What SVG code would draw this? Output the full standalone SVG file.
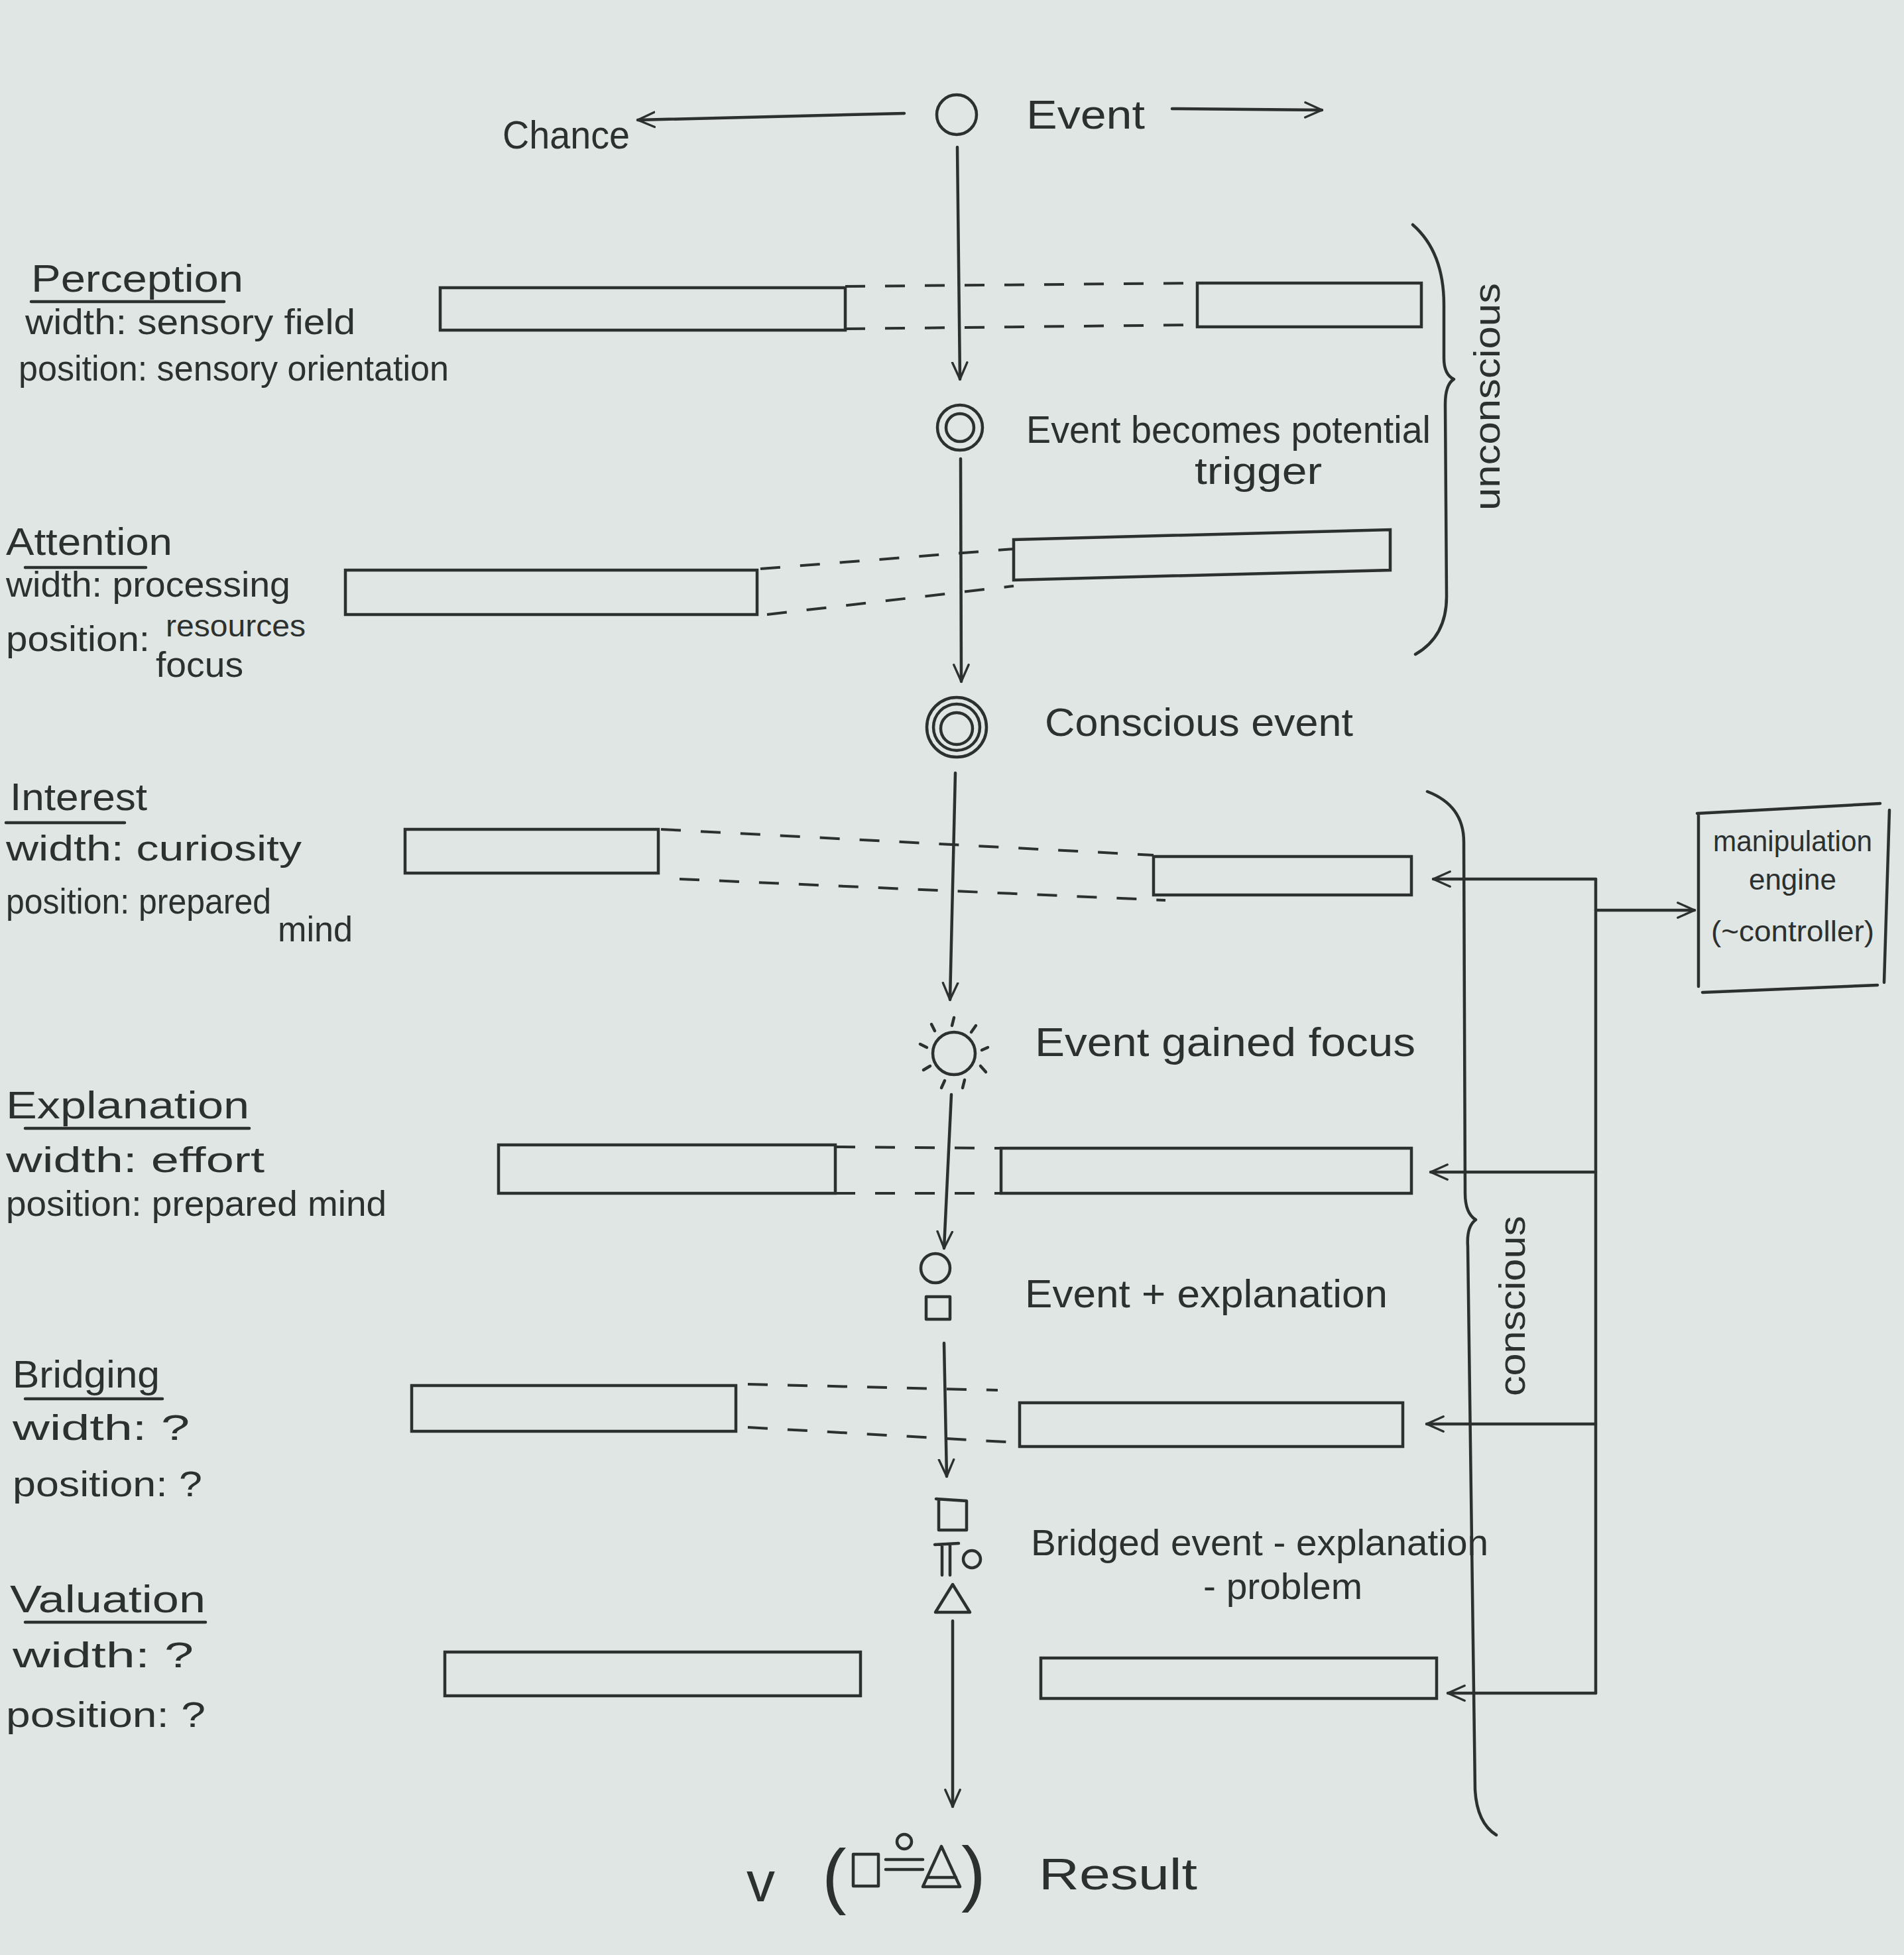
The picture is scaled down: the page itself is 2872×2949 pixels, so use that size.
<svg xmlns="http://www.w3.org/2000/svg" width="2872" height="2949" viewBox="0 0 2872 2949">
<style>
.t{font-family:"Liberation Sans",Arial,sans-serif;font-size:54px;fill:#2c302f}
.s{fill:none;stroke:#2c302f;stroke-width:4.5;stroke-linecap:round;stroke-linejoin:round}
.d{fill:none;stroke:#2c302f;stroke-width:4;stroke-dasharray:30 30}
.bar{fill:none;stroke:#2c302f;stroke-width:4.5}
</style>
<defs>
<marker id="ah" viewBox="0 0 20 20" refX="19" refY="10" markerWidth="28" markerHeight="28" markerUnits="userSpaceOnUse" orient="auto">
<path d="M1,2 L19,10 L1,18" fill="none" stroke="#2c302f" stroke-width="2.4" stroke-linecap="round" stroke-linejoin="round"/>
</marker>
</defs>
<rect width="2872" height="2949" fill="#dfe6e4"/>

<g id="connectors">
<line class="s" x1="1364" y1="171" x2="962" y2="181" marker-end="url(#ah)"/>
<line class="s" x1="1768" y1="164" x2="1994" y2="166" marker-end="url(#ah)"/>
<line class="s" x1="1444" y1="222" x2="1448" y2="572" marker-end="url(#ah)"/>
<line class="s" x1="1449" y1="692" x2="1450" y2="1028" marker-end="url(#ah)"/>
<line class="s" x1="1441" y1="1166" x2="1433" y2="1508" marker-end="url(#ah)"/>
<line class="s" x1="1435" y1="1651" x2="1424" y2="1883" marker-end="url(#ah)"/>
<line class="s" x1="1424" y1="2026" x2="1428" y2="2227" marker-end="url(#ah)"/>
<line class="s" x1="1437" y1="2445" x2="1437" y2="2725" marker-end="url(#ah)"/>
<polyline class="s" points="2407,1326 2407,2554"/>
<line class="s" x1="2407" y1="1326" x2="2162" y2="1326" marker-end="url(#ah)"/>
<line class="s" x1="2407" y1="1373" x2="2556" y2="1373" marker-end="url(#ah)"/>
<line class="s" x1="2407" y1="1768" x2="2158" y2="1768" marker-end="url(#ah)"/>
<line class="s" x1="2407" y1="2148" x2="2152" y2="2148" marker-end="url(#ah)"/>
<line class="s" x1="2407" y1="2554" x2="2184" y2="2554" marker-end="url(#ah)"/>
</g>

<g id="chance"><text class="t" x="758" y="224" style="font-size:60px" textLength="192" lengthAdjust="spacingAndGlyphs">Chance</text></g>
<g id="event">
<circle class="s" cx="1443" cy="173" r="30"/>
<text class="t" x="1548" y="194" style="font-size:62px" textLength="179" lengthAdjust="spacingAndGlyphs">Event</text>
</g>
<g id="potential-trigger">
<circle class="s" cx="1448" cy="645" r="34"/>
<circle class="s" cx="1448" cy="645" r="21"/>
<text class="t" x="1548" y="668" style="font-size:58px" textLength="610" lengthAdjust="spacingAndGlyphs">Event becomes potential</text>
<text class="t" x="1802" y="730" style="font-size:58px" textLength="192" lengthAdjust="spacingAndGlyphs">trigger</text>
</g>
<g id="conscious-event">
<circle class="s" cx="1443" cy="1097" r="45"/>
<circle class="s" cx="1443" cy="1097" r="35"/>
<circle class="s" cx="1443" cy="1099" r="24"/>
<text class="t" x="1576" y="1110" style="font-size:60px" textLength="465" lengthAdjust="spacingAndGlyphs">Conscious event</text>
</g>
<g id="event-focus">
<circle class="s" cx="1439" cy="1589" r="32"/>
<path class="s" d="M1439,1535 L1436,1547 M1472,1547 L1465,1557 M1490,1580 L1481,1584 M1487,1617 L1479,1608 M1452,1641 L1455,1629 M1420,1641 L1425,1630 M1393,1614 L1403,1608 M1388,1575 L1398,1580 M1405,1545 L1410,1555"/>
<text class="t" x="1561" y="1593" style="font-size:62px" textLength="574" lengthAdjust="spacingAndGlyphs">Event gained focus</text>
</g>
<g id="event-explanation">
<circle class="s" cx="1411" cy="1913" r="22"/>
<rect class="s" x="1397" y="1956" width="36" height="34"/>
<text class="t" x="1546" y="1972" style="font-size:60px" textLength="547" lengthAdjust="spacingAndGlyphs">Event + explanation</text>
</g>
<g id="bridged">
<path class="s" d="M1412,2261 L1458,2264 L1458,2308 L1416,2308 L1416,2262"/>
<path class="s" d="M1410,2330 L1446,2328 M1421,2330 L1421,2376 M1433,2330 L1433,2376"/>
<circle class="s" cx="1466" cy="2352" r="13"/>
<path class="s" d="M1411,2432 L1437,2390 L1463,2432 Z"/>
<text class="t" x="1555" y="2346" style="font-size:56px" textLength="690" lengthAdjust="spacingAndGlyphs">Bridged event - explanation</text>
<text class="t" x="1815" y="2412" style="font-size:56px" textLength="240" lengthAdjust="spacingAndGlyphs">- problem</text>
</g>
<g id="result">
<text class="t" x="1126" y="2868" style="font-size:86px">v</text>
<text class="t" x="1240" y="2866" style="font-size:110px">(</text>
<rect class="s" x="1287" y="2797" width="38" height="48"/>
<circle class="s" cx="1364" cy="2778" r="11"/>
<path class="s" d="M1336,2805 L1392,2805 M1336,2820 L1392,2820"/>
<path class="s" d="M1392,2846 L1420,2785 L1448,2846 Z M1400,2832 L1442,2832"/>
<text class="t" x="1450" y="2862" style="font-size:110px">)</text>
<text class="t" x="1567" y="2850" style="font-size:66px" textLength="239" lengthAdjust="spacingAndGlyphs">Result</text>
</g>

<g id="perception">
<text class="t" x="47" y="440" style="font-size:58px" textLength="320" lengthAdjust="spacingAndGlyphs">Perception</text>
<line class="s" x1="47" y1="455" x2="338" y2="455"/>
<text class="t" x="38" y="504" textLength="498" lengthAdjust="spacingAndGlyphs">width: sensory field</text>
<text class="t" x="28" y="574" textLength="649" lengthAdjust="spacingAndGlyphs">position: sensory orientation</text>
<rect class="bar" x="664" y="434" width="611" height="64"/>
<rect class="bar" x="1806" y="427" width="338" height="66"/>
<line class="d" x1="1275" y1="432" x2="1806" y2="427"/>
<line class="d" x1="1275" y1="496" x2="1806" y2="490"/>
</g>
<g id="attention">
<text class="t" x="9" y="837" style="font-size:58px" textLength="251" lengthAdjust="spacingAndGlyphs">Attention</text>
<line class="s" x1="38" y1="856" x2="220" y2="856"/>
<text class="t" x="9" y="900" textLength="429" lengthAdjust="spacingAndGlyphs">width: processing</text>
<text class="t" x="250" y="960" style="font-size:46px" textLength="211" lengthAdjust="spacingAndGlyphs">resources</text>
<text class="t" x="9" y="982" textLength="217" lengthAdjust="spacingAndGlyphs">position:</text>
<text class="t" x="235" y="1021" textLength="132" lengthAdjust="spacingAndGlyphs">focus</text>
<rect class="bar" x="521" y="860" width="621" height="67"/>
<path class="bar" d="M1529,814 L2097,799 L2097,860 L1529,875 Z"/>
<line class="d" x1="1147" y1="858" x2="1529" y2="828"/>
<line class="d" x1="1157" y1="927" x2="1529" y2="884"/>
</g>
<g id="interest">
<text class="t" x="15" y="1222" style="font-size:58px" textLength="207" lengthAdjust="spacingAndGlyphs">Interest</text>
<line class="s" x1="9" y1="1241" x2="188" y2="1241"/>
<text class="t" x="9" y="1298" textLength="446" lengthAdjust="spacingAndGlyphs">width: curiosity</text>
<text class="t" x="9" y="1378" textLength="400" lengthAdjust="spacingAndGlyphs">position: prepared</text>
<text class="t" x="419" y="1420" textLength="113" lengthAdjust="spacingAndGlyphs">mind</text>
<rect class="bar" x="611" y="1251" width="382" height="66"/>
<rect class="bar" x="1740" y="1292" width="389" height="58"/>
<line class="d" x1="997" y1="1251" x2="1740" y2="1290"/>
<line class="d" x1="1025" y1="1326" x2="1758" y2="1358"/>
</g>
<g id="explanation">
<text class="t" x="9" y="1687" style="font-size:58px" textLength="367" lengthAdjust="spacingAndGlyphs">Explanation</text>
<line class="s" x1="38" y1="1702" x2="376" y2="1702"/>
<text class="t" x="9" y="1768" textLength="390" lengthAdjust="spacingAndGlyphs">width: effort</text>
<text class="t" x="9" y="1834" textLength="574" lengthAdjust="spacingAndGlyphs">position: prepared mind</text>
<rect class="bar" x="752" y="1727" width="508" height="73"/>
<rect class="bar" x="1510" y="1732" width="619" height="68"/>
<line class="d" x1="1260" y1="1730" x2="1510" y2="1732"/>
<line class="d" x1="1260" y1="1800" x2="1510" y2="1800"/>
</g>
<g id="bridging">
<text class="t" x="19" y="2093" style="font-size:58px" textLength="222" lengthAdjust="spacingAndGlyphs">Bridging</text>
<line class="s" x1="38" y1="2110" x2="245" y2="2110"/>
<text class="t" x="19" y="2172" textLength="267" lengthAdjust="spacingAndGlyphs">width: ?</text>
<text class="t" x="19" y="2257" textLength="286" lengthAdjust="spacingAndGlyphs">position: ?</text>
<rect class="bar" x="621" y="2090" width="489" height="69"/>
<rect class="bar" x="1538" y="2116" width="578" height="66"/>
<line class="d" x1="1128" y1="2088" x2="1505" y2="2097"/>
<line class="d" x1="1128" y1="2153" x2="1533" y2="2176"/>
</g>
<g id="valuation">
<text class="t" x="15" y="2432" style="font-size:58px" textLength="295" lengthAdjust="spacingAndGlyphs">Valuation</text>
<line class="s" x1="38" y1="2447" x2="310" y2="2447"/>
<text class="t" x="19" y="2515" textLength="273" lengthAdjust="spacingAndGlyphs">width: ?</text>
<text class="t" x="9" y="2605" textLength="301" lengthAdjust="spacingAndGlyphs">position: ?</text>
<rect class="bar" x="671" y="2492" width="627" height="66"/>
<rect class="bar" x="1570" y="2501" width="597" height="61"/>
</g>

<g id="unconscious">
<path class="s" d="M2131,339 Q2178,380 2178,460 L2178,540 Q2178,565 2193,572 Q2180,580 2180,610 L2182,900 Q2182,960 2135,987"/>
<text class="t" x="0" y="0" style="font-size:56px" transform="translate(2262,770) rotate(-90)" textLength="343" lengthAdjust="spacingAndGlyphs">unconscious</text>
</g>
<g id="conscious">
<path class="s" d="M2153,1194 Q2208,1215 2208,1270 L2210,1800 Q2210,1830 2226,1840 Q2212,1850 2214,1880 L2225,2700 Q2228,2750 2257,2768"/>
<text class="t" x="0" y="0" style="font-size:56px" transform="translate(2300,2106) rotate(-90)" textLength="272" lengthAdjust="spacingAndGlyphs">conscious</text>
</g>
<g id="manipulation-engine">
<path class="s" d="M2560,1227 L2836,1212 M2850,1222 L2842,1482 M2568,1497 L2832,1486 M2562,1227 L2562,1488"/>
<text class="t" x="2704" y="1284" style="font-size:44px" text-anchor="middle" textLength="240" lengthAdjust="spacingAndGlyphs">manipulation</text>
<text class="t" x="2704" y="1342" style="font-size:44px" text-anchor="middle">engine</text>
<text class="t" x="2704" y="1420" style="font-size:44px" text-anchor="middle" textLength="246" lengthAdjust="spacingAndGlyphs">(~controller)</text>
</g>
</svg>
